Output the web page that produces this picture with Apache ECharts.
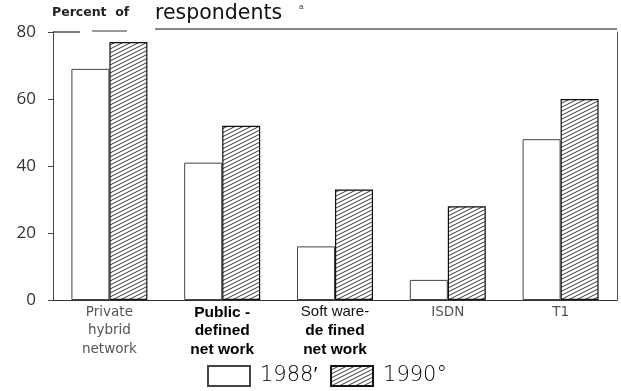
<!DOCTYPE html>
<html>
<head>
<meta charset="utf-8">
<script src="https://cdn.jsdelivr.net/npm/echarts@6/dist/echarts.min.js"></script>
<style>
  html, body { margin: 0; padding: 0; background: #fff; }
  #chart { width: 621px; height: 391px; }
</style>
</head>
<body>
<div id="chart"></div>
<script>
// Network types surveyed, share of respondents using each
const categories = ['Private\nhybrid\nnetwork', 'Public -\ndefined\nnet work', 'Soft ware-\nde fined\nnet work', 'ISDN', 'T1'];
const values1988 = [69, 41, 16, 6, 48];
const values1990 = [77, 52, 33, 28, 60];
const seriesNames = ['1988\u2032', '1990\u00b0'];
const yTicks = [0, 20, 40, 60, 80];

// Diagonal hatch tile used for the 1990 bars
function hatchPattern() {
  const c = document.createElement('canvas');
  c.width = 8; c.height = 4;
  const g = c.getContext('2d');
  g.fillStyle = '#fff';
  g.fillRect(0, 0, 8, 4);
  g.strokeStyle = '#222';
  g.lineWidth = 0.9;
  g.beginPath();
  for (let k = -1; k <= 1; k++) {
    g.moveTo(-8, 8 + k * 4);
    g.lineTo(16, -4 + k * 4);
  }
  g.stroke();
  return c;
}
const hatch = { image: hatchPattern(), repeat: 'repeat' };

const chart = echarts.init(document.getElementById('chart'));

function labelFor(value, idx) {
  if (idx === 1) {
    return value.split('\n').map(s => '{b|' + s + '}').join('\n');
  }
  if (idx === 2) {
    const parts = value.split('\n');
    return '{n|' + parts[0] + '}\n{b|' + parts[1] + '}\n{b|' + parts[2] + '}';
  }
  return value.split('\n').map(s => '{l|' + s + '}').join('\n');
}

chart.setOption({
  animation: false,
  grid: { left: 53, right: 4, top: 32, bottom: 91 },
  xAxis: {
    type: 'category',
    data: categories,
    axisLine: { show: true, lineStyle: { color: '#333', width: 1 } },
    axisTick: { show: false },
    axisLabel: {
      margin: 3,
      interval: 0,
      formatter: labelFor,
      rich: {
        l: { fontFamily: 'DejaVu Sans', fontSize: 13.5, color: '#555', lineHeight: 18.5, fontWeight: 'normal' },
        b: { fontFamily: 'Liberation Sans', fontSize: 15.5, color: '#000', lineHeight: 18.5, fontWeight: 'bold' },
        n: { fontFamily: 'Liberation Sans', fontSize: 15, color: '#111', lineHeight: 18.5, fontWeight: 'normal' }
      }
    }
  },
  yAxis: [{
    type: 'value',
    min: 0,
    max: 80,
    interval: 20,
    axisLine: { show: true, lineStyle: { color: '#444', width: 1 } },
    axisTick: { show: true, inside: false, length: 5, lineStyle: { color: '#444' } },
    splitLine: { show: false },
    axisLabel: {
      margin: 17,
      fontFamily: 'Open Sans',
      fontSize: 17,
      color: '#333',
      formatter: v => yTicks.indexOf(v) >= 0 ? String(v) : ''
    }
  }, {
    type: 'value',
    position: 'right',
    min: 0,
    max: 80,
    axisLine: { show: true, lineStyle: { color: '#555', width: 1 } },
    axisTick: { show: false },
    axisLabel: { show: false },
    splitLine: { show: false }
  }],
  legend: {
    left: 207,
    top: 365,
    padding: 0,
    icon: 'rect',
    itemWidth: 42,
    itemHeight: 20,
    itemGap: 12,
    textStyle: { fontFamily: 'DejaVu Sans', fontWeight: 200, fontSize: 21, color: '#000', padding: [2, 0, 0, 5] },
    data: seriesNames
  },
  series: [{
    name: seriesNames[0],
    type: 'bar',
    data: values1988,
    barWidth: 38,
    barGap: '0%',
    itemStyle: { color: '#fff', borderColor: '#444', borderWidth: 1 }
  }, {
    name: seriesNames[1],
    type: 'bar',
    data: values1990,
    barWidth: 38,
    barGap: '0%',
    itemStyle: { color: hatch, borderColor: '#111', borderWidth: 1.2 }
  }],
  graphic: [
    { type: 'text', left: 52, top: 6, style: { text: 'Percent  of', font: 'bold 12.5px "DejaVu Sans"', fill: '#222' } },
    { type: 'text', left: 155, top: 3, style: { text: 'respondents', font: '20.5px "DejaVu Sans"', fill: '#111' } },
    { type: 'text', left: 299, top: 3, style: { text: 'a', font: '8px "Liberation Sans"', fill: '#333' } },
    { type: 'line', shape: { x1: 155, y1: 29, x2: 617, y2: 29 }, style: { stroke: '#111', lineWidth: 1.2 } },
    { type: 'line', shape: { x1: 53, y1: 32, x2: 80, y2: 32 }, style: { stroke: '#222', lineWidth: 1.2 } },
    { type: 'line', shape: { x1: 92, y1: 31, x2: 127, y2: 31 }, style: { stroke: '#333', lineWidth: 1 } }
  ]
});
</script>
</body>
</html>
